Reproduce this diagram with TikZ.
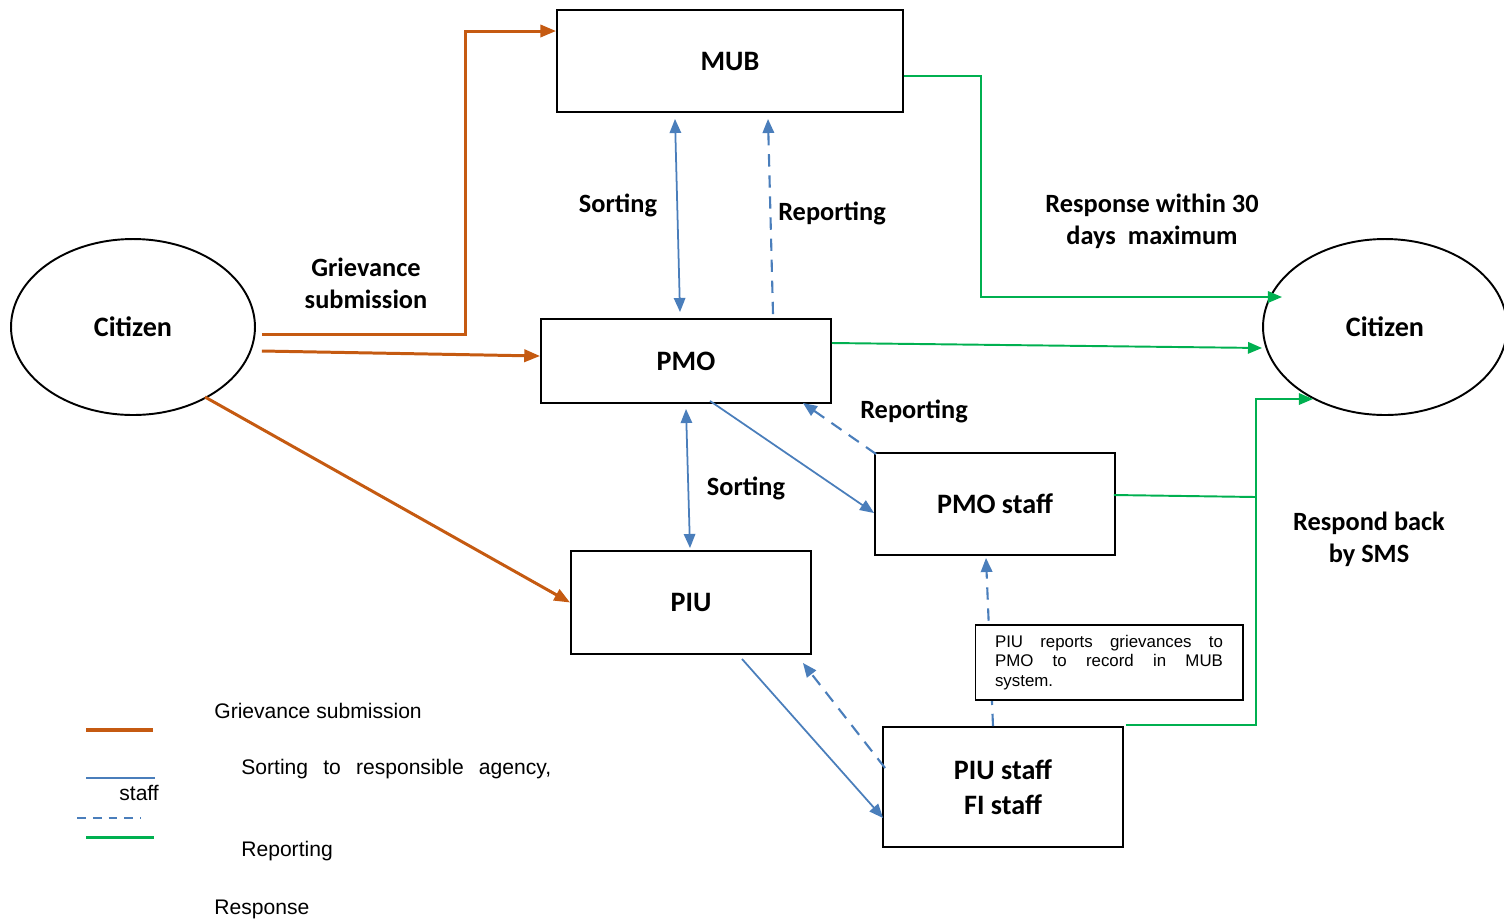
\documentclass[tikz,border=0pt]{standalone}
\usepackage{fontspec}
\setmainfont{Carlito}
\newfontfamily\arialfont{Liberation Sans}
\usetikzlibrary{calc,positioning,shapes.geometric,arrows.meta}
\definecolor{grvorange}{RGB}{197,90,17}
\definecolor{srtblue}{RGB}{74,126,187}
\definecolor{rspgreen}{RGB}{0,176,80}
\tikzset{grievance/.style={grvorange,line width=1.7pt,-{Triangle[length=9pt,width=7pt]}},
sorting/.style={srtblue,line width=1pt,-{Triangle[length=8pt,width=6.5pt]}},
reporting/.style={sorting,dashed,dash pattern=on 7pt off 5pt,line width=1.2pt},
response/.style={rspgreen,line width=1.1pt,-{Triangle[length=8pt,width=6.5pt]}}}

\begin{document}
\begin{tikzpicture}[x=0.02cm,y=-0.02cm]

\tikzset{agency/.style={draw,line width=1.1pt,rectangle,inner sep=0pt,font=\fontsize{16}{19.8}\selectfont\bfseries,align=center},
citizen/.style={draw,line width=1.1pt,ellipse,inner sep=0pt,minimum width=4.88cm,minimum height=3.52cm,font=\fontsize{16}{19}\selectfont\bfseries},
lbl/.style={font=\fontsize{15}{18.1}\selectfont\bfseries,align=center,inner sep=0pt},
legtext/.style={font=\arialfont\fontsize{12}{14}\selectfont,anchor=west,inner sep=0pt}}

\useasboundingbox (0,0) rectangle (1504,921);

% Citizens
\node[citizen] (citL) at (133,327) {Citizen};
\node[citizen] (citR) at (1385,327) {Citizen};

% Agencies
\node[agency,minimum width=6.92cm,minimum height=2.04cm] (mub) at (730,61) {MUB};
\node[agency,minimum width=5.8cm,minimum height=1.68cm] (pmo) at (686,361) {PMO};
\node[agency,minimum width=4.8cm,minimum height=2.04cm] (pmostaff) at (995,504) {PMO staff};
\node[agency,minimum width=4.8cm,minimum height=2.06cm] (piu) at (691,602.5) {PIU};
\node[agency,minimum width=4.8cm,minimum height=2.4cm] (piustaff) at (1003,787) {PIU staff\\FI staff};

% Grievance submission
\draw[grievance] ($(citL.east)+(6,7)$) -| ($(mub.west)+(-91,-30)$) -- ($(mub.west)+(0,-30)$);
\draw[grievance] ($(citL.east)+(6,24)$) -- ($(pmo.west)+(0,-5)$);
\draw[grievance] ($(citL.center)+(72,70)$) -- (piu.west);

% Sorting
\draw[sorting,{Triangle[length=8pt,width=6.5pt]}-{Triangle[length=8pt,width=6.5pt]}] ($(mub.south)+(-55,6)$) -- ($(pmo.north)+(-6,-6)$);
\draw[sorting,{Triangle[length=8pt,width=6.5pt]}-{Triangle[length=8pt,width=6.5pt]}] ($(pmo.south)+(0,5)$) -- ($(piu.north)+(-1,-2)$);
\draw[sorting] ($(pmo.south)+(24,-3)$) -- ($(pmostaff.west)+(0,9)$);
\draw[sorting] ($(piu.south)+(51,4)$) -- ($(piustaff.west)+(1,31)$);

% Reporting
\draw[reporting] ($(pmo.north)+(87,-4)$) -- ($(mub.south)+(38,6)$);
\draw[reporting] ($(pmostaff.north west)+(2,2)$) -- ($(pmo.south east)+(-29,-1)$);
\draw[reporting] ($(piustaff.west)+(3,-19)$) -- ($(piu.south east)+(-9,8)$);
\draw[reporting] ($(piustaff.north)+(-10,0)$) -- ($(pmostaff.south)+(-9,2)$);

% note over the dashed line
\node[draw,fill=white,line width=0.6pt,minimum width=5.36cm,minimum height=1.5cm,text width=4.56cm,align=left,font=\arialfont\fontsize{9.6}{11.3}\selectfont] (note) at (1109,662.5) {\makebox[4.56cm][s]{PIU\hfill reports\hfill grievances\hfill to}\\\makebox[4.56cm][s]{PMO\hfill to\hfill record\hfill in\hfill MUB}\\system.};

% Response
\coordinate (join) at ($(citR.center)+(-129,170)$);
\draw[response] ($(mub.east)+(0,15)$) -| ($(citR.center)+(-404,-30)$) -- ($(citR.center)+(-103,-30)$);
\draw[response] ($(pmo.east)+(0,-18)$) -- ($(citR.west)+(0,21)$);
\draw[response,-] ($(pmostaff.east)+(-2,-9)$) -- (join);
\draw[response] ($(piustaff.north east)+(2,-1)$) -| ($(citR.center)+(-129,72)$) -- ($(citR.center)+(-72,72)$);

% Labels
\node[lbl] (lGriev) at (366,283) {Grievance\\submission};
\node[lbl] (lSort1) at (618,205) {Sorting};
\node[lbl] (lRep1) at (832,213) {Reporting};
\node[lbl] (lResp) at (1152,221) {Response within 30\\days\ \ maximum};
\node[lbl] (lRep2) at (914,411) {Reporting};
\node[lbl] (lSort2) at (746,488) {Sorting};
\node[lbl] (lSMS) at (1369,539) {Respond back\\by SMS};

% Legend
\draw[grvorange,line width=2.3pt] (86,730) -- (153,730);
\draw[srtblue,line width=0.85pt] (86,778) -- (155,778);
\draw[srtblue,line width=0.85pt,dash pattern=on 5pt off 4pt] (77,818) -- (141,818);
\draw[rspgreen,line width=1.7pt] (86,837) -- (154,837);
\node[legtext] (kGriev) at (214,711) {Grievance submission};
\node[legtext] (kSort) at (241,769) {\makebox[6.2cm][s]{Sorting to responsible agency,}};
\node[legtext] (kStaff) at (119,793) {staff};
\node[legtext] (kRep) at (241,851) {Reporting};
\node[legtext] (kResp) at (214,909) {Response};

\end{tikzpicture}
\end{document}
